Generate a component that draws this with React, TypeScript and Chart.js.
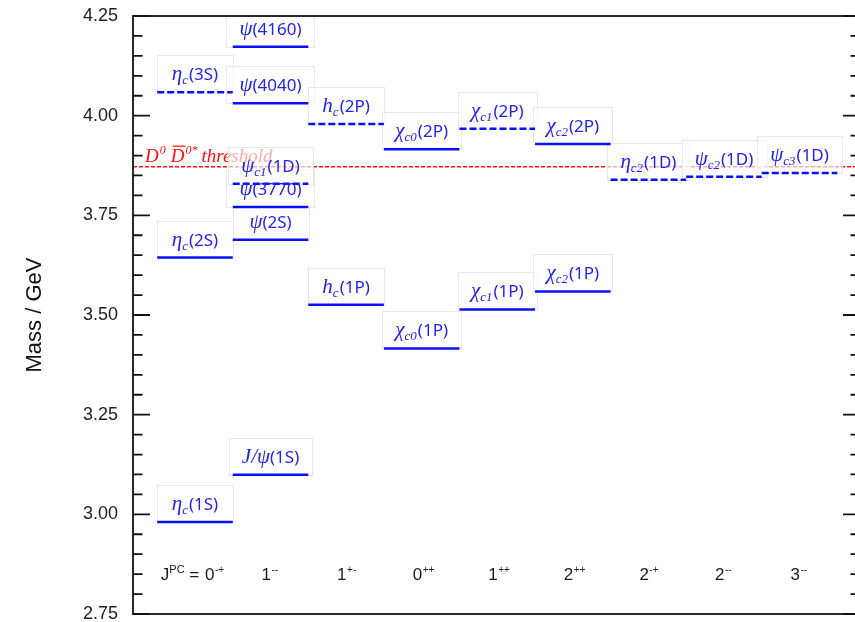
import React, { useEffect, useRef } from 'react';
import { Chart, registerables } from 'chart.js';

Chart.register(...registerables);

// J^PC column labels
const jpcSpin = ['0', '1', '1', '0', '1', '2', '2', '2', '3'];
const jpcParity = ['-+', '--', '+-', '++', '++', '++', '-+', '--', '--'];

// charmonium states
const stateSymbol = ['η', 'η', 'η', 'J/ψ', 'ψ', 'ψ', 'ψ', 'ψ', 'ψ', 'h', 'h', 'χ', 'χ', 'χ', 'χ', 'χ', 'χ', 'η', 'ψ', 'ψ'];
const stateSub = ['c', 'c', 'c', '', '', '', 'c1', '', '', 'c', 'c', 'c0', 'c0', 'c1', 'c1', 'c2', 'c2', 'c2', 'c2', 'c3'];
const stateTerm = ['(1S)', '(2S)', '(3S)', '(1S)', '(2S)', '(3770)', '(1D)', '(4040)', '(4160)', '(1P)', '(2P)', '(1P)', '(2P)', '(1P)', '(2P)', '(1P)', '(2P)', '(1D)', '(1D)', '(1D)'];
const stateColumn = [0, 0, 0, 1, 1, 1, 1, 1, 1, 2, 2, 3, 3, 4, 4, 5, 5, 6, 7, 8];
const stateMass = [2.981, 3.644, 4.059, 3.099, 3.689, 3.771, 3.829, 4.031, 4.173, 3.526, 3.979, 3.416, 3.916, 3.514, 3.967, 3.559, 3.929, 3.839, 3.847, 3.856];
const statePredicted = [false, false, true, false, false, false, true, false, false, false, true, false, false, false, true, false, false, true, true, true];

const thresholdMass = 3.872;
const jpcRowMass = 2.85;
const yTicks = [2.75, 3.0, 3.25, 3.5, 3.75, 4.0, 4.25];

const X_MIN = -0.82;
const X_MAX = 8.8;
const Y_MIN = 2.75;
const Y_MAX = 4.25;

const BLUE_LINE = '#0a10f5';
const BLUE_TEXT = '#2323f0';
const RED = '#ff1010';

const SYM_FONT = 'italic 21px "Liberation Serif"';
const SUB_FONT = 'italic 13px "Liberation Serif"';
const TERM_FONT = '17px "Noto Sans"';

function measureLabel(ctx: CanvasRenderingContext2D, i: number) {
  ctx.font = SYM_FONT;
  const w1 = ctx.measureText(stateSymbol[i]).width;
  ctx.font = SUB_FONT;
  const w2 = stateSub[i] ? ctx.measureText(stateSub[i]).width + 1 : 0;
  ctx.font = TERM_FONT;
  const w3 = ctx.measureText(stateTerm[i]).width;
  return { w1, w2, w3, total: w1 + w2 + w3 };
}

const charmPlugin = {
  id: 'charm',
  afterDatasetDraw(chart: any, args: any) {
    if (args.index !== 0) return;
    const { ctx, chartArea } = chart;
    const xs = chart.scales.x;
    const ys = chart.scales.y;
    ctx.save();
    ctx.beginPath();
    ctx.rect(chartArea.left, chartArea.top, chartArea.right - chartArea.left, chartArea.bottom - chartArea.top);
    ctx.clip();
    // threshold label
    const ty = ys.getPixelForValue(thresholdMass) - 5;
    let x = chartArea.left + 12;
    ctx.fillStyle = RED;
    ctx.strokeStyle = RED;
    ctx.textBaseline = 'alphabetic';
    ctx.textAlign = 'left';
    ctx.font = 'italic 19px "Liberation Serif"';
    ctx.fillText('D', x, ty);
    x += ctx.measureText('D').width;
    ctx.font = 'italic 12px "Liberation Serif"';
    ctx.fillText('0', x + 1, ty - 8);
    x += ctx.measureText('0').width + 6;
    ctx.font = 'italic 19px "Liberation Serif"';
    const dw = ctx.measureText('D').width;
    ctx.fillText('D', x, ty);
    ctx.lineWidth = 1.2;
    ctx.beginPath();
    ctx.moveTo(x + 2, ty - 15.5);
    ctx.lineTo(x + dw + 1, ty - 15.5);
    ctx.stroke();
    x += dw;
    ctx.font = 'italic 12px "Liberation Serif"';
    ctx.fillText('0*', x + 1, ty - 8);
    x += ctx.measureText('0*').width + 5;
    ctx.font = 'italic 19px "Liberation Serif"';
    ctx.fillText('threshold', x, ty);

    // label boxes
    for (let i = 0; i < stateMass.length; i++) {
      const cx = xs.getPixelForValue(stateColumn[i]);
      const ly = ys.getPixelForValue(stateMass[i]);
      const m = measureLabel(ctx, i);
      const bw = Math.max(76, m.total + 26);
      ctx.fillStyle = 'rgba(255,255,255,0.65)';
      ctx.fillRect(cx - bw / 2, ly - 37, bw, 37);
      ctx.strokeStyle = '#e8e8e8';
      ctx.lineWidth = 1;
      ctx.strokeRect(Math.round(cx - bw / 2) + 0.5, Math.round(ly - 37) + 0.5, Math.round(bw), 37);
    }
    ctx.restore();
  },
  afterDatasetsDraw(chart: any) {
    const { ctx } = chart;
    const xs = chart.scales.x;
    const ys = chart.scales.y;
    ctx.save();
    ctx.textBaseline = 'alphabetic';
    ctx.textAlign = 'left';
    // state labels
    for (let i = 0; i < stateMass.length; i++) {
      const cx = xs.getPixelForValue(stateColumn[i]);
      const ly = ys.getPixelForValue(stateMass[i]);
      const m = measureLabel(ctx, i);
      let x = cx - m.total / 2;
      const base = ly - 12;
      ctx.fillStyle = BLUE_TEXT;
      ctx.font = SYM_FONT;
      ctx.fillText(stateSymbol[i], x, base);
      x += m.w1;
      if (stateSub[i]) {
        ctx.font = SUB_FONT;
        ctx.fillText(stateSub[i], x, base + 4);
        x += m.w2;
      }
      ctx.font = TERM_FONT;
      ctx.fillText(stateTerm[i], x, base);
    }
    // J^PC row
    const rowY = ys.getPixelForValue(jpcRowMass);
    const base = rowY + 6;
    ctx.fillStyle = '#1a1a1a';
    for (let i = 0; i < jpcSpin.length; i++) {
      const cx = xs.getPixelForValue(i);
      let x = i === 0 ? cx + 10 : cx - 9;
      if (i === 0) {
        ctx.font = '17px "Liberation Sans"';
        const eqW = ctx.measureText(' = ').width;
        const jW = ctx.measureText('J').width;
        ctx.font = '11px "Liberation Sans"';
        const pcW = ctx.measureText('PC').width;
        let px = x - 1 - eqW - pcW - jW;
        ctx.font = '17px "Liberation Sans"';
        ctx.fillText('J', px, base);
        px += jW;
        ctx.font = '11px "Liberation Sans"';
        ctx.fillText('PC', px, base - 7);
        px += pcW;
        ctx.font = '17px "Liberation Sans"';
        ctx.fillText(' = ', px, base);
      }
      ctx.font = '17px "Liberation Sans"';
      ctx.fillText(jpcSpin[i], x, base);
      x += ctx.measureText(jpcSpin[i]).width;
      ctx.font = '10px "Liberation Sans"';
      ctx.fillText(jpcParity[i], x + 0.5, base - 7);
    }
    ctx.restore();
  },
  afterDraw(chart: any) {
    const { ctx, chartArea } = chart;
    const ys = chart.scales.y;
    const { left, right, top, bottom } = chartArea;
    ctx.save();
    ctx.strokeStyle = '#111';
    ctx.lineWidth = 1.8;
    ctx.strokeRect(left, top, right - left, bottom - top);
    for (let k = 0; k <= 30; k++) {
      const v = Y_MIN + k * 0.05;
      const y = ys.getPixelForValue(v);
      const major = k % 5 === 0;
      const len = major ? 17 : 9.5;
      ctx.beginPath();
      ctx.moveTo(left, y);
      ctx.lineTo(left + len, y);
      ctx.moveTo(right, y);
      ctx.lineTo(right - len, y);
      ctx.stroke();
    }
    ctx.restore();
  },
};

export default function App() {
  const ref = useRef<HTMLCanvasElement | null>(null);
  useEffect(() => {
    if (!ref.current) return;
    const datasets: any[] = [
      {
        label: 'threshold',
        data: [
          { x: X_MIN, y: thresholdMass },
          { x: X_MAX, y: thresholdMass },
        ],
        borderColor: RED,
        borderWidth: 1.5,
        borderDash: [4, 2],
        pointRadius: 0,
        order: 1,
      },
    ];
    for (let i = 0; i < stateMass.length; i++) {
      datasets.push({
        label: stateSymbol[i] + stateSub[i] + stateTerm[i],
        data: [
          { x: stateColumn[i] - 0.5, y: stateMass[i] },
          { x: stateColumn[i] + 0.5, y: stateMass[i] },
        ],
        borderColor: BLUE_LINE,
        borderWidth: 2.5,
        borderDash: statePredicted[i] ? [7, 3] : [],
        borderCapStyle: 'butt',
        pointRadius: 0,
        order: 0,
      });
    }
    const chart = new Chart(ref.current, {
      type: 'line',
      data: { datasets },
      options: {
        responsive: false,
        animation: false,
        devicePixelRatio: 1,
        layout: { padding: { left: 0, top: 16, right: 10, bottom: 16 } },
        plugins: { legend: { display: false }, tooltip: { enabled: false } },
        scales: {
          x: { type: 'linear', min: X_MIN, max: X_MAX, display: false },
          y: {
            type: 'linear',
            min: Y_MIN,
            max: Y_MAX,
            afterBuildTicks: (scale: any) => {
              scale.ticks = yTicks.map((v) => ({ value: v }));
            },
            afterFit: (scale: any) => {
              scale.width = 133;
              scale.paddingTop = 0;
              scale.paddingBottom = 0;
            },
            ticks: {
              padding: 15,
              color: '#222',
              font: { family: 'Liberation Sans', size: 18 },
              callback: (v: any) => Number(v).toFixed(2),
            },
            grid: { display: false, drawTicks: false },
            border: { display: false },
            title: {
              display: true,
              text: 'Mass / GeV',
              color: '#111',
              font: { family: 'Liberation Sans', size: 22 },
              padding: { top: 22, bottom: 0 },
            },
          },
        },
      },
      plugins: [charmPlugin],
    } as any);
    return () => chart.destroy();
  }, []);
  return (
    <div style={{ position: 'absolute', left: 0, top: 0, width: 855, height: 622, overflow: 'hidden', background: '#fff' }}>
      <canvas ref={ref} width={870} height={630} style={{ display: 'block' }} />
    </div>
  );
}
